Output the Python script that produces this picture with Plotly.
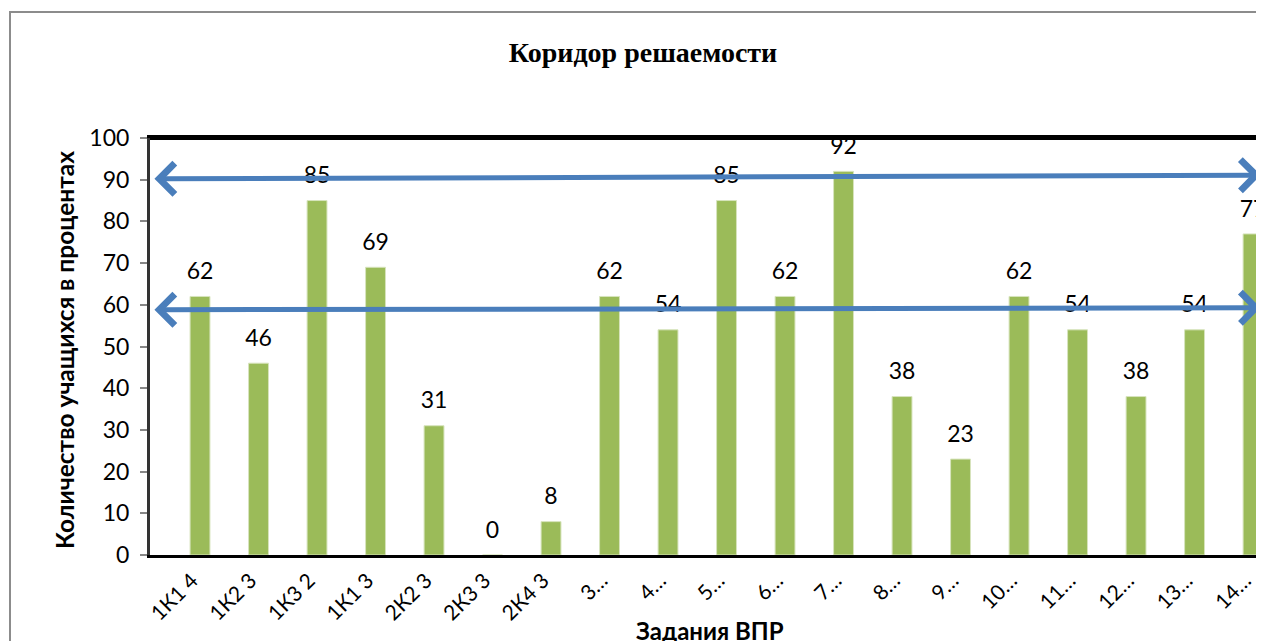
import plotly.graph_objects as go

categories = ["1К1 4", "1К2 3", "1К3 2", "1К1 3", "2К2 3", "2К3 3", "2К4 3",
              "3…", "4…", "5…", "6…", "7…", "8…", "9…", "10…", "11…", "12…", "13…", "14…"]
values = [62, 46, 85, 69, 31, 0, 8, 62, 54, 85, 62, 92, 38, 23, 62, 54, 38, 54, 77]

# corridor bounds (left end, right end)
corridor_upper = [90.2, 91.1]
corridor_lower = [58.8, 59.3]

y_ticks = [0, 10, 20, 30, 40, 50, 60, 70, 80, 90, 100]

title_text = "Коридор решаемости"
x_title = "Задания ВПР"
y_title = "Количество учащихся в процентах"

BAR = "#9BBB59"
ARROW = "#4A7EBB"
FONT = "Lato"

# page body adds an 8px offset; the figure is sized to fit the 1264x641 window
OFF = 8
W, H = 1264 - OFF, 641 - OFF
L, R, T, B = 142, 3, 130, 86
PW, PH = W - L - R, H - T - B
x_range = [-0.855, 18.136]


def px(xp):
    return (xp - OFF - L) / PW


def py(yp):
    return (H - B - (yp - OFF)) / PH


fig = go.Figure()
fig.add_trace(go.Bar(
    x=categories, y=values, marker=dict(color=BAR, line=dict(color="#D7E4BD", width=1)),
    width=0.34, showlegend=False, hoverinfo="skip",
))
fig.add_trace(go.Scatter(
    x=categories, y=values, mode="markers+text", text=[str(v) for v in values],
    textposition="top center", marker=dict(size=17, color="rgba(0,0,0,0)"),
    textfont=dict(family=FONT, size=23, color="black"), showlegend=False,
    hoverinfo="skip", cliponaxis=True,
))

annotations = []
for (yl, yr) in (corridor_upper, corridor_lower):
    annotations.append(dict(
        x=x_range[1] - 0.003, y=yr, ax=x_range[0] + 0.05, ay=yl,
        xref="x", yref="y", axref="x", ayref="y", text="",
        showarrow=True, arrowhead=4, startarrowhead=4, arrowside="end+start",
        arrowwidth=5, arrowsize=1.2, startarrowsize=1.2, arrowcolor=ARROW,
    ))

annotations.append(dict(
    text=x_title, xref="paper", yref="paper", x=px(710), y=py(630),
    xanchor="center", yanchor="middle",
    showarrow=False, font=dict(family=FONT, size=24, color="black", weight="bold"),
))
annotations.append(dict(
    text=y_title, xref="paper", yref="paper", x=px(64), y=py(350),
    xanchor="center", yanchor="middle", textangle=-90,
    showarrow=False, font=dict(family=FONT, size=24.5, color="black", weight="bold"),
))

shapes = [
    dict(type="rect", xref="paper", yref="paper",
         x0=px(10), x1=1.05, y0=-0.4, y1=py(12),
         line=dict(color="#8C8C8C", width=2), fillcolor="rgba(0,0,0,0)", layer="below"),
    # heavier top edge of the plot frame
    dict(type="line", xref="paper", yref="paper", x0=0, x1=1, y0=1, y1=1,
         line=dict(color="black", width=4)),
]

fig.update_layout(
    width=W, height=H, margin=dict(l=L, r=R, t=T, b=B, autoexpand=False),
    paper_bgcolor="white", plot_bgcolor="white",
    title=dict(text=title_text, x=(643 - OFF) / W, y=1 - (52 - OFF) / H,
               xref="container", yref="container", xanchor="center", yanchor="middle",
               font=dict(family="Liberation Serif", size=28, color="black", weight="bold")),
    annotations=annotations, shapes=shapes,
    xaxis=dict(type="category", range=x_range, showline=True, linecolor="black", linewidth=3,
               mirror=True, ticks="", tickangle=-45, showgrid=False, ticklabelshift=-8,
               ticklabelstandoff=2,
               tickfont=dict(family=FONT, size=21, color="black"), automargin=False),
    yaxis=dict(range=[0, 100], tickvals=y_ticks, showline=True, linecolor="#333333", linewidth=3,
               mirror=True, ticks="outside", ticklen=7, tickcolor="#888888", tickwidth=2,
               showgrid=False, zeroline=False, automargin=False, ticklabelstandoff=6,
               tickfont=dict(family=FONT, size=23, color="black")),
)

fig.write_html("out.html")
